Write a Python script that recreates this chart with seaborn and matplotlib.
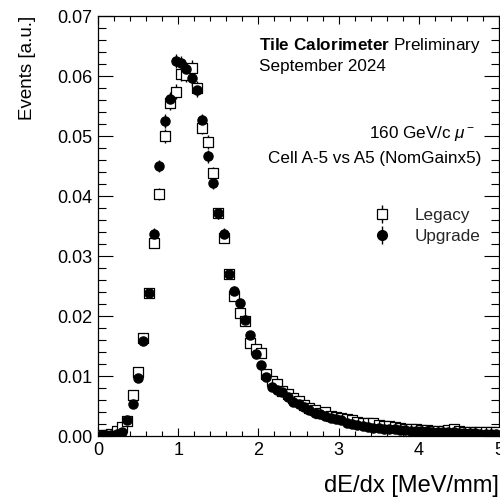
import numpy as np
import pandas as pd
import matplotlib
matplotlib.use("Agg")
import matplotlib.pyplot as plt
from matplotlib.lines import Line2D
from matplotlib.ticker import MultipleLocator, FormatStrFormatter
import seaborn as sns

sns.set_theme(style="ticks")
plt.rcParams["font.family"] = ["Liberation Sans", "DejaVu Sans"]
plt.rcParams["mathtext.fontset"] = "custom"
plt.rcParams["mathtext.rm"] = "Liberation Sans"
plt.rcParams["mathtext.it"] = "Liberation Sans:italic"
plt.rcParams["mathtext.bf"] = "Liberation Sans:bold"

# 75 bins of dE/dx between 0 and 5 MeV/mm
bin_edges = np.linspace(0, 5, 76)

legacy = [
    0.0001, 0.0001, 0.0003, 0.0008, 0.0015, 0.0025, 0.0068, 0.0107, 0.0163, 0.0238,
    0.0322, 0.0404, 0.0500, 0.0555, 0.0574, 0.0603, 0.0602, 0.0614, 0.0580, 0.0514,
    0.0490, 0.0438, 0.0371, 0.0330, 0.0270, 0.0234, 0.0205, 0.0192, 0.0155, 0.0145,
    0.0138, 0.0103, 0.0092, 0.0086, 0.0075, 0.0070, 0.0064, 0.0058, 0.0052, 0.0047,
    0.0043, 0.0039, 0.0040, 0.0034, 0.0032, 0.0030, 0.0029, 0.0026, 0.0023, 0.0022,
    0.0021, 0.0022, 0.0019, 0.0017, 0.0016, 0.0015, 0.0013, 0.0012, 0.0011, 0.0011,
    0.0010, 0.0010, 0.0009, 0.0009, 0.0008, 0.0010, 0.0011, 0.0008, 0.0007, 0.0007,
    0.0006, 0.0006, 0.0007, 0.0006, 0.0006,
]
upgrade = [
    0.0001, 0.0001, 0.0002, 0.0003, 0.0006, 0.0027, 0.0054, 0.0097, 0.0158, 0.0238,
    0.0337, 0.0450, 0.0525, 0.0562, 0.0625, 0.0622, 0.0612, 0.0596, 0.0577, 0.0526,
    0.0466, 0.0421, 0.0371, 0.0337, 0.0270, 0.0242, 0.0222, 0.0194, 0.0168, 0.0137,
    0.0118, 0.0099, 0.0082, 0.0076, 0.0073, 0.0065, 0.0056, 0.0053, 0.0048, 0.0044,
    0.0038, 0.0036, 0.0033, 0.0030, 0.0029, 0.0026, 0.0022, 0.0020, 0.0018, 0.0017,
    0.0015, 0.0014, 0.0013, 0.0012, 0.0012, 0.0011, 0.0010, 0.0010, 0.0009, 0.0009,
    0.0008, 0.0008, 0.0007, 0.0007, 0.0006, 0.0006, 0.0006, 0.0005, 0.0005, 0.0005,
    0.0005, 0.0004, 0.0004, 0.0004, 0.0004,
]
# statistical uncertainty per bin (shared by both samples)
errors = [
    0.0001, 0.0001, 0.0001, 0.0002, 0.0002, 0.0003, 0.0004, 0.0005, 0.0006, 0.0008,
    0.0009, 0.0010, 0.0011, 0.0012, 0.0012, 0.0012, 0.0012, 0.0012, 0.0012, 0.0011,
    0.0011, 0.0010, 0.0009, 0.0009, 0.0008, 0.0008, 0.0007, 0.0007, 0.0006, 0.0006,
    0.0005, 0.0005, 0.0005, 0.0004, 0.0004, 0.0004, 0.0004, 0.0003, 0.0003, 0.0003,
    0.0003, 0.0003, 0.0003, 0.0003, 0.0002, 0.0002, 0.0002, 0.0002, 0.0002, 0.0002,
    0.0002, 0.0002, 0.0002, 0.0002, 0.0002, 0.0002, 0.0002, 0.0002, 0.0001, 0.0001,
    0.0001, 0.0001, 0.0001, 0.0001, 0.0001, 0.0001, 0.0001, 0.0001, 0.0001, 0.0001,
    0.0001, 0.0001, 0.0001, 0.0001, 0.0001,
]

centers = 0.5 * (bin_edges[:-1] + bin_edges[1:])
df = pd.DataFrame({
    "dEdx": np.concatenate([centers, centers]),
    "events": legacy + upgrade,
    "err": errors + errors,
    "sample": ["Legacy"] * len(legacy) + ["Upgrade"] * len(upgrade),
})

fig = plt.figure(figsize=(5.0, 4.97), dpi=100)
ax = fig.add_axes([0.196, 0.1227, 0.802, 0.8451])

styles = {
    "Legacy": dict(marker="s", facecolor="white"),
    "Upgrade": dict(marker="o", facecolor="black"),
}
for name, st in styles.items():
    sub = df[df["sample"] == name]
    ax.errorbar(sub["dEdx"], sub["events"], yerr=sub["err"], fmt="none",
                ecolor="black", elinewidth=1.0, capsize=0, zorder=2)
    sns.scatterplot(data=sub, x="dEdx", y="events", ax=ax, marker=st["marker"],
                    color=st["facecolor"], edgecolor="black", linewidth=0.9,
                    s=44, legend=False, zorder=3)

ax.set_xlim(0, 5)
ax.set_ylim(0, 0.07)
ax.xaxis.set_major_locator(MultipleLocator(1))
ax.xaxis.set_minor_locator(MultipleLocator(0.2))
ax.yaxis.set_major_locator(MultipleLocator(0.01))
ax.yaxis.set_minor_locator(MultipleLocator(0.002))
ax.yaxis.set_major_formatter(FormatStrFormatter("%.2f"))
ax.tick_params(axis="both", which="both", direction="in", top=True, right=True,
               colors="black", labelsize=13, width=0.8)
ax.tick_params(axis="x", which="major", length=5.5, pad=4.5)
ax.tick_params(axis="x", which="minor", length=3.3)
ax.tick_params(axis="y", which="major", length=10.5, pad=4)
ax.tick_params(axis="y", which="minor", length=5.5)
for sp in ax.spines.values():
    sp.set_color("black")
    sp.set_linewidth(0.9)

ax.set_xlabel("dE/dx [MeV/mm]", fontsize=17, loc="right", labelpad=11, color="black")
ax.set_ylabel("Events [a.u.]", fontsize=13.5, loc="top", labelpad=15, color="black")
ax.set_xticks(range(0, 6))
ax.set_xticklabels([str(v) for v in range(0, 6)])

ax.text(0.402, 0.918, r"$\bf{Tile\ Calorimeter}$ Preliminary", transform=ax.transAxes,
        fontsize=12.3, ha="left", va="baseline", color="black")
ax.text(0.402, 0.870, "September 2024", transform=ax.transAxes,
        fontsize=12.3, ha="left", va="baseline", color="black")
ax.text(0.94, 0.72, r"160 GeV/c $\mu^-$", transform=ax.transAxes,
        fontsize=12.3, ha="right", va="center", color="black")
ax.text(0.955, 0.661, "Cell A-5 vs A5 (NomGainx5)", transform=ax.transAxes,
        fontsize=12.3, ha="right", va="center", color="black")

bar = Line2D([], [], marker="|", markersize=13, color="black", linestyle="none",
             markeredgewidth=1.0)
sq = Line2D([], [], marker="s", markersize=6.8, markerfacecolor="white",
            markeredgecolor="black", markeredgewidth=0.9, linestyle="none")
dot = Line2D([], [], marker="o", markersize=7.0, markerfacecolor="black",
             markeredgecolor="black", linestyle="none")
ax.legend([(bar, sq), (bar, dot)], ["Legacy", "Upgrade"], loc="center left",
          bbox_to_anchor=(0.645, 0.5), frameon=False, fontsize=12.3,
          handlelength=1.2, handletextpad=1.3, labelspacing=0.3)

fig.savefig("out.png", dpi=100)
